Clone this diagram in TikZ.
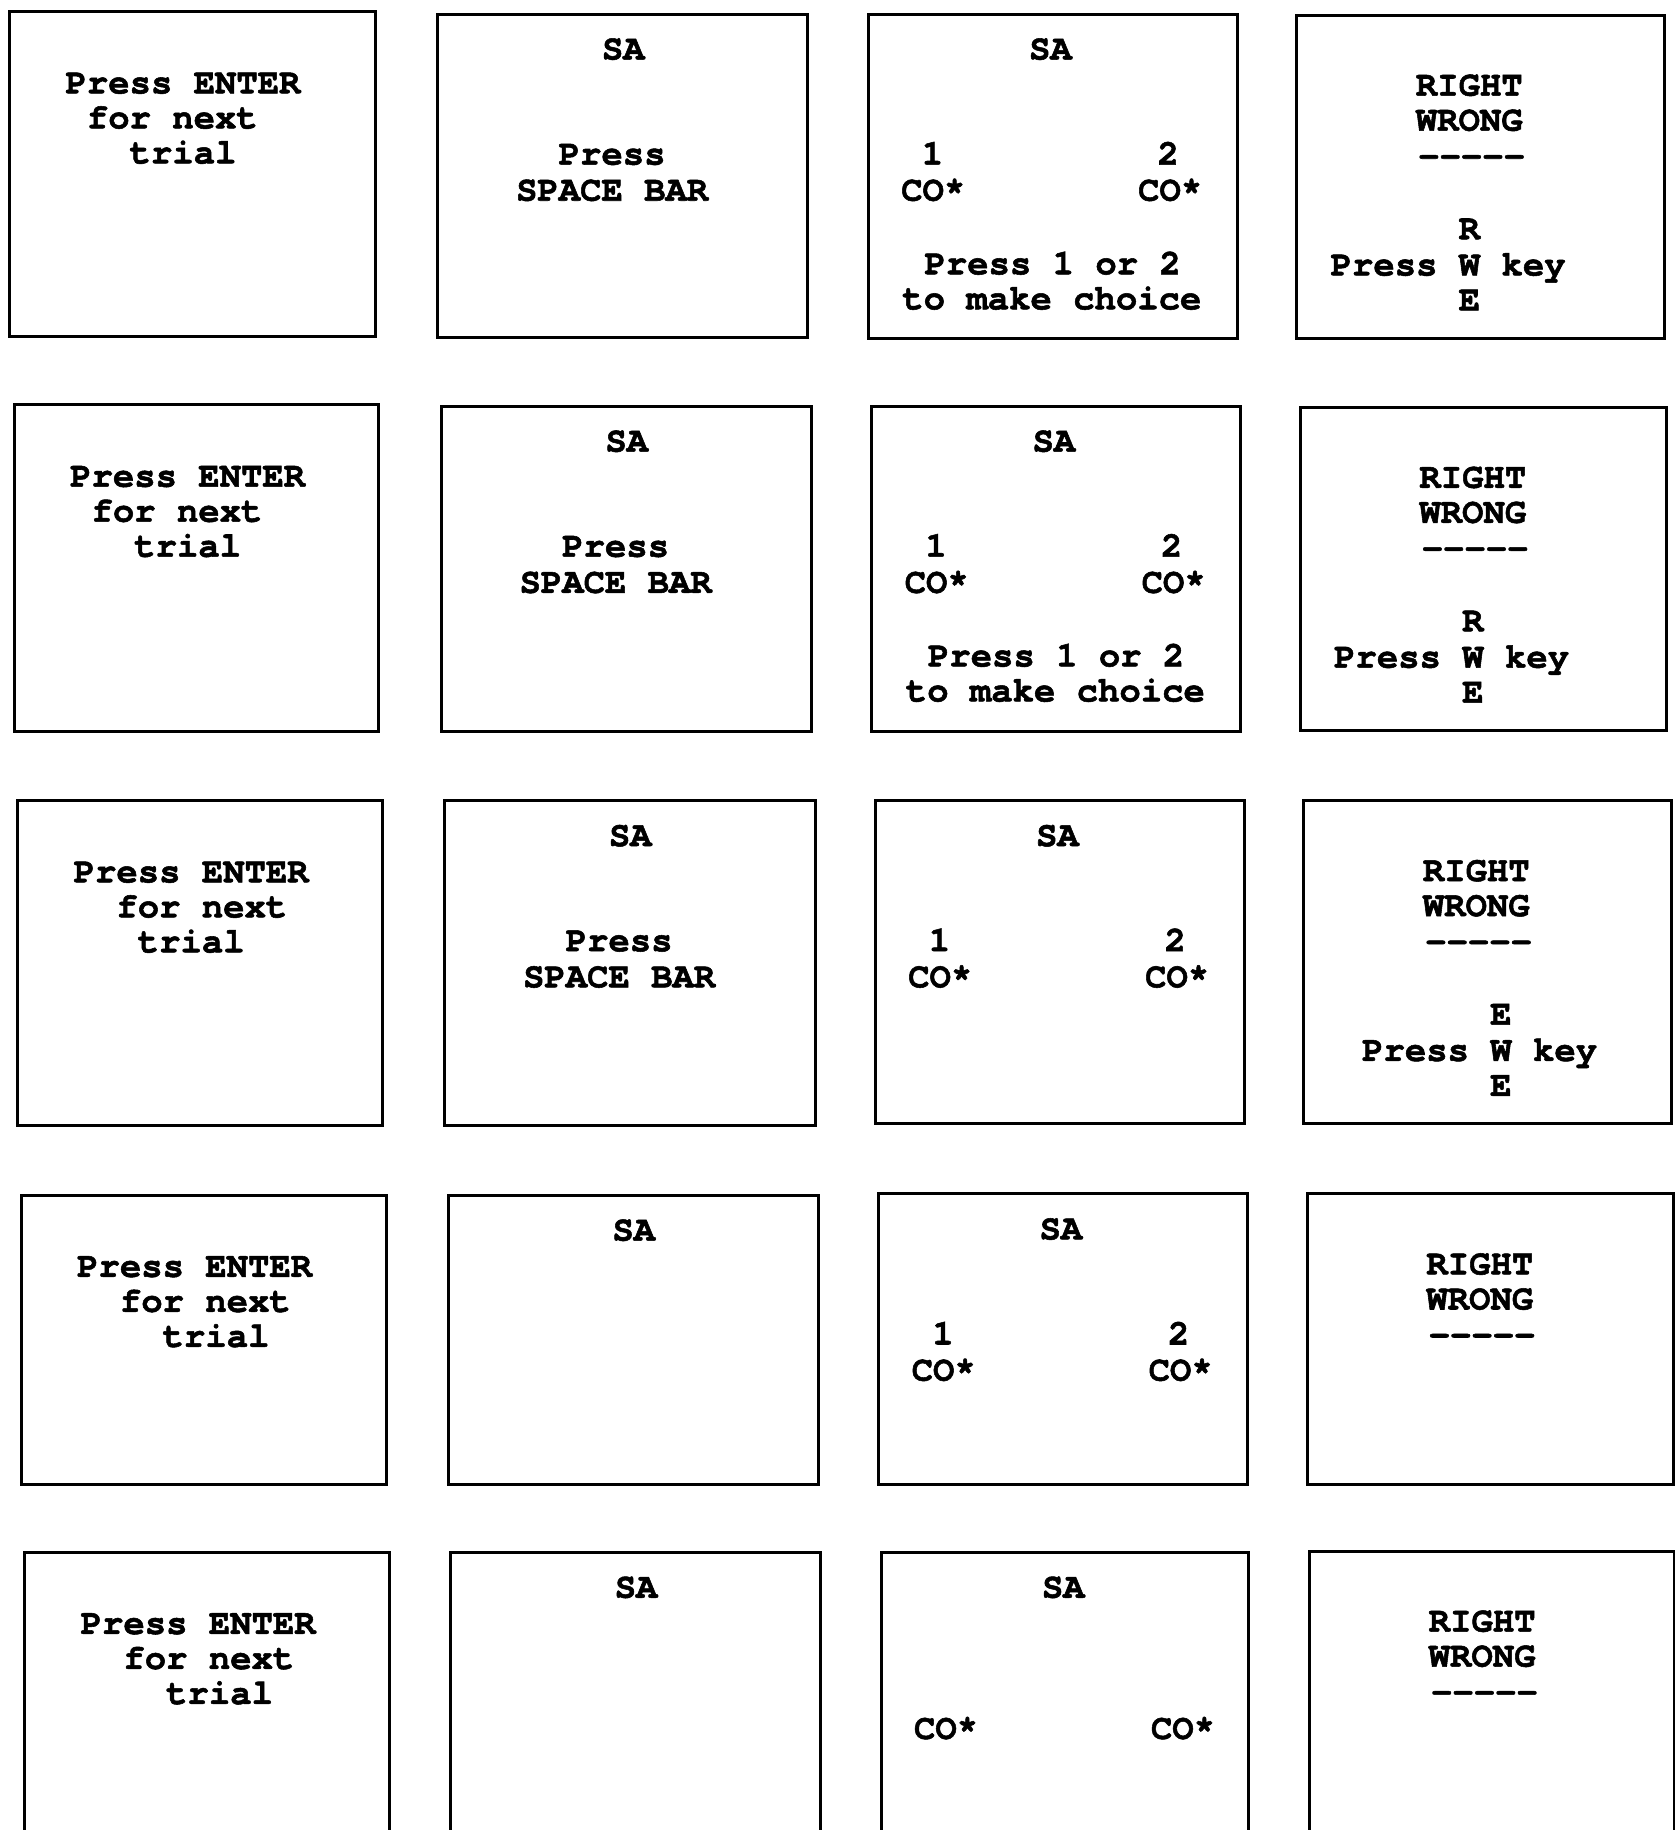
\documentclass[tikz,border=0pt]{standalone}
\usepackage{fontspec}
\newfontfamily\monob{TeX Gyre Cursor}[BoldFeatures={FakeBold=1.5}]
\newcommand\tfont{\monob\bfseries\fontsize{35.6pt}{35pt}\selectfont}
% column 1: "Press ENTER" screen
\newcommand\enterbox[7]{%
  \begin{scope}[shift={(#2,#3)}]
    \draw[screen] (0,0) rectangle (#4,#5);
    \node[txt] (#1a) at (48,70) {Press ENTER};
    \node[txt] (#1b) at ({48+18.3*#6},100) {for next};
    \node[txt] (#1c) at ({48+18.3*#7},130) {trial};
  \end{scope}}
% column 2: SA screen
\newcommand\sabox[6]{%
  \begin{scope}[shift={(#2,#3)}]
    \draw[screen] (0,0) rectangle (#4,#5);
    \node[ctxt] (#1sa) at (159,39) {SA};
    \ifnum#6=1
      \node[txt] (#1p) at (103.6,129) {Press};
      \node[txt] (#1s) at (67,160) {SPACE BAR};
    \fi
  \end{scope}}
% column 3: choice screen
\newcommand\choicebox[6]{%
  \begin{scope}[shift={(#2,#3)}]
    \draw[screen] (0,0) rectangle (#4,#5);
    \node[ctxt] (#1sa) at (156,39) {SA};
    \ifnum#6>0
      \node[ctxt] (#1n1) at (55,129) {1};
      \node[ctxt] (#1n2) at (257,129) {2};
    \fi
    \node[txt] (#1c1) at (28,160) {CO*};
    \node[txt] (#1c2) at (231,160) {CO*};
    \ifnum#6>1
      \node[txt] (#1p1) at (48,223) {Press 1 or 2};
      \node[txt] (#1p2) at (29,253) {to make choice};
    \fi
  \end{scope}}
% column 4: feedback screen
\newcommand\fbbox[8]{%
  \begin{scope}[shift={(#2,#3)}]
    \draw[screen] (0,0) rectangle (#4,#5);
    \node[txt] (#1r) at (102,69) {RIGHT};
    \node[txt] (#1w) at (102,99) {WRONG};
    \node[txt] (#1d) at (104,130) {-----};
    \ifnum#6=1
      \node[ctxt] (#1k1) at ({#7+119},192) {#8};
      \node[txt] (#1k2) at (#7,223) {Press W key};
      \node[ctxt] (#1k3) at ({#7+119},253) {E};
    \fi
  \end{scope}}
\begin{document}
\begin{tikzpicture}[x=1.1672pt,y=-1.1672pt,
  screen/.style={draw=black,line width=3pt},
  txt/.style={font=\tfont,inner sep=0pt,anchor=base west},
  ctxt/.style={font=\tfont,inner sep=0pt,anchor=base}]
\clip (0,0) rectangle (1435,1568);
\fill[white] (0,0) rectangle (1435,1568);
% row 1
\enterbox{ea}{8}{10}{314}{278}{1}{3}
\sabox{sa}{375}{12}{317}{277}{1}
\choicebox{ca}{744}{12}{316}{278}{2}
\fbbox{fa}{1111}{13}{315}{277}{1}{29}{R}
% row 2
\enterbox{eb}{12}{347}{312}{280}{1}{3}
\sabox{sb}{378}{348}{317}{279}{1}
\choicebox{cb}{747}{348}{316}{279}{2}
\fbbox{fb}{1114}{349}{314}{277}{1}{29}{R}
% row 3
\enterbox{ec}{15}{686}{313}{278}{2}{3}
\sabox{sc}{381}{686}{318}{278}{1}
\choicebox{cc}{750}{686}{316}{277}{1}
\fbbox{fc}{1117}{686}{315}{277}{1}{50}{E}
% row 4
\enterbox{ed}{18}{1024}{313}{248}{2}{4}
\sabox{sd}{384}{1024}{317}{248}{0}
\choicebox{cd}{753}{1023}{316}{249}{1}
\fbbox{fd}{1120}{1023}{314}{249}{0}{0}{}
% row 5 (cut off at the bottom)
\enterbox{ee}{21}{1330}{313}{320}{2}{4}
\sabox{se}{386}{1330}{317}{320}{0}
\choicebox{ce}{755}{1330}{315}{320}{0}
\fbbox{fe}{1122}{1329}{313}{320}{0}{0}{}
\end{tikzpicture}
\end{document}
